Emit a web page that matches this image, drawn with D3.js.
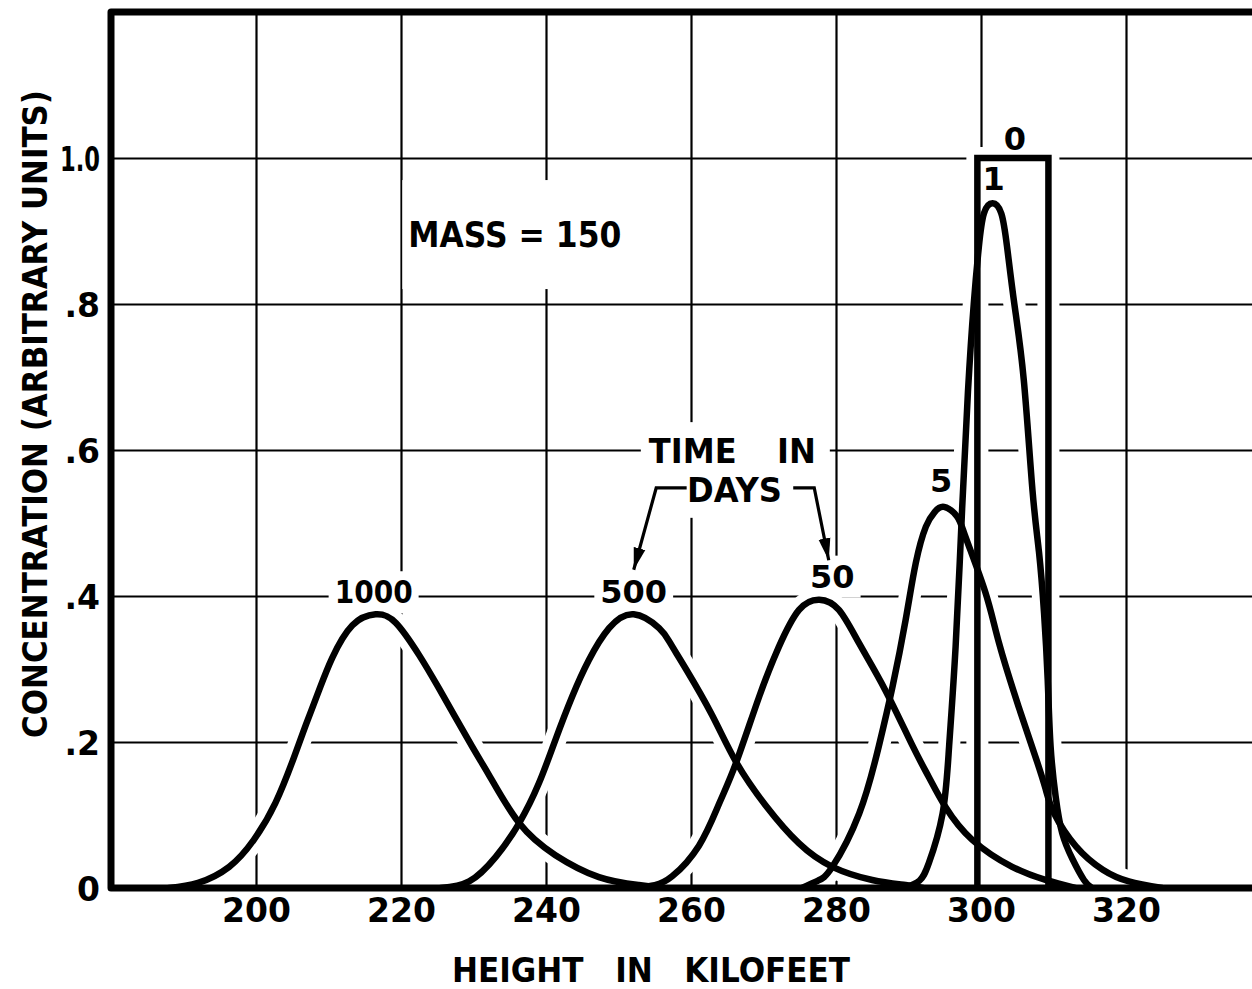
<!DOCTYPE html>
<html>
<head>
<meta charset="utf-8">
<script src="https://cdn.jsdelivr.net/npm/d3@7/dist/d3.min.js"></script>
<style>
  html, body { margin: 0; padding: 0; background: #ffffff; }
  svg { display: block; }
  text { font-family: "DejaVu Sans", "Liberation Sans", sans-serif; font-weight: bold; fill: #000; }
</style>
</head>
<body>
<svg id="chart" width="1252" height="989"></svg>
<script>
// ---------------- data ----------------
const xTicks = [200, 220, 240, 260, 280, 300, 320];
const xTickLabels = ["200", "220", "240", "260", "280", "300", "320"];
const yTicks = [0, 0.2, 0.4, 0.6, 0.8, 1.0];
const yTickLabels = ["0", ".2", ".4", ".6", ".8", "1.0"];

const seriesNames = ["1000", "500", "50", "5", "1", "0"];

// [height in kilofeet, concentration]
const days1000 = [[188,0],[192,0.007],[196.3,0.029],[199.7,0.066],[202.7,0.117],[205.2,0.178],[206.9,0.224],[208.7,0.271],[210.5,0.315],[213.3,0.360],[216.5,0.375],[219.3,0.363],[222.5,0.319],[225.2,0.274],[229.8,0.194],[232.3,0.152],[236.3,0.089],[241.3,0.045],[247.3,0.015],[252.8,0.004],[256,0]];
const days500 = [[225.5,0],[229.4,0.009],[233.1,0.043],[236.3,0.089],[239.0,0.143],[241.3,0.203],[243.6,0.262],[245.9,0.312],[248.7,0.356],[252.1,0.375],[255.6,0.356],[257.1,0.336],[259.3,0.300],[262.9,0.237],[266.2,0.173],[270.3,0.113],[274.9,0.061],[279.5,0.029],[285.0,0.011],[289.6,0.004],[292,0]];
const days50 = [[252.5,0],[255,0.004],[257.4,0.016],[261.1,0.058],[263.9,0.116],[266.2,0.171],[269.4,0.262],[272.1,0.330],[274.9,0.381],[277.7,0.395],[280.4,0.381],[283.2,0.335],[286.8,0.271],[290.5,0.196],[292.8,0.152],[295.1,0.111],[298.8,0.066],[304.3,0.029],[308.9,0.011],[313,0]];
const days5 = [[275.3,0],[277.5,0.01],[279.5,0.029],[283.2,0.102],[285.9,0.194],[287.8,0.276],[289.6,0.367],[291.0,0.445],[292.4,0.495],[293.6,0.515],[294.9,0.522],[296.7,0.509],[297.9,0.480],[300.6,0.405],[302.5,0.335],[305.2,0.248],[307.5,0.180],[308.9,0.136],[310.1,0.102],[313.1,0.057],[316.8,0.025],[320.4,0.009],[325,0]];
const days1 = [[289.5,0],[291.5,0.01],[292.8,0.034],[294.7,0.102],[295.6,0.194],[296.5,0.331],[297.4,0.52],[298.2,0.68],[299.0,0.8],[299.7,0.878],[300.4,0.924],[301.6,0.938],[302.8,0.924],[303.6,0.878],[304.6,0.8],[305.9,0.696],[307.1,0.545],[308.0,0.460],[308.7,0.376],[309.2,0.285],[309.6,0.194],[310.3,0.125],[311.2,0.075],[312.6,0.040],[314.2,0.011],[315.3,0]];
const days0 = [[299.5,0],[299.5,1.0],[309.3,1.0],[309.3,0]];

const xTitle = "HEIGHT IN KILOFEET";
const yTitle = "CONCENTRATION (ARBITRARY UNITS)";
const massNote = "MASS = 150";
const timeNoteLines = ["TIME IN", "DAYS"];

// ---------------- drawing ----------------
const svg = d3.select("#chart");
const x = d3.scaleLinear().domain([180, 340]).range([111, 1271]);
const y = d3.scaleLinear().domain([0, 1.2]).range([888, 12]);

const defs = svg.append("defs");
defs.append("marker")
  .attr("id", "arrowhead")
  .attr("viewBox", "0 -7 22 14")
  .attr("refX", 22).attr("refY", 0)
  .attr("markerWidth", 22).attr("markerHeight", 14)
  .attr("markerUnits", "userSpaceOnUse")
  .attr("orient", "auto")
  .append("path").attr("d", "M0,-6L22,0L0,6Z").attr("fill", "#000");

const gGrid = svg.append("g");
const gBg = svg.append("g");
const gHalo = svg.append("g");
const gFrame = svg.append("g");
const gCurves = svg.append("g");
const gText = svg.append("g");

// grid + tick labels through d3 axes
const xAxis = d3.axisBottom(x)
  .tickValues(xTicks)
  .tickFormat((d, i) => xTickLabels[i])
  .tickSize(-(y(0) - y(1.2)))
  .tickPadding(10);
const gx = gGrid.append("g").attr("transform", `translate(0,${y(0)})`).call(xAxis);
gx.select(".domain").remove();
gx.selectAll(".tick line").attr("stroke", "#000").attr("stroke-width", 2.2);
gx.selectAll(".tick text")
  .attr("font-size", 33).attr("font-family", null).attr("y", 34).attr("dy", 0);

const yAxis = d3.axisLeft(y)
  .tickValues(yTicks)
  .tickFormat((d, i) => yTickLabels[i])
  .tickSize(-(x(340) - x(180)))
  .tickPadding(11);
const gy = gGrid.append("g").attr("transform", `translate(${x(180)},0)`).call(yAxis);
gy.select(".domain").remove();
gy.selectAll(".tick line").attr("stroke", "#000").attr("stroke-width", 2.2);
gy.selectAll(".tick text")
  .attr("font-size", 33).attr("font-family", null).attr("dy", 12)
  .each(function(d, i) {
    if (yTickLabels[i] === "1.0") {
      d3.select(this).attr("textLength", 40).attr("lengthAdjust", "spacingAndGlyphs");
    }
  });

// curves
const smoothLine = d3.line().x(d => x(d[0])).y(d => y(d[1])).curve(d3.curveNatural);
const straightLine = d3.line().x(d => x(d[0])).y(d => y(d[1]));
const seriesData = [days1000, days500, days50, days5, days1, days0];
const series = seriesNames.map((name, i) => ({ name, pts: seriesData[i], smooth: name !== "0" }));

// clip curves so spline wiggles never dip below the baseline
defs.append("clipPath").attr("id", "plotClip")
  .append("rect").attr("x", x(180)).attr("y", y(1.2)).attr("width", x(340) - x(180)).attr("height", y(0) - y(1.2));

series.forEach(s => {
  const d = (s.smooth ? smoothLine : straightLine)(s.pts);
  gHalo.append("path").attr("d", d).attr("fill", "none").attr("clip-path", "url(#plotClip)")
    .attr("stroke", "#fff").attr("stroke-width", 22).attr("stroke-linejoin", "round");
  gCurves.append("path").attr("d", d).attr("fill", "none").attr("clip-path", "url(#plotClip)")
    .attr("stroke", "#000").attr("stroke-width", 6.5)
    .attr("stroke-linejoin", s.smooth ? "round" : "miter").attr("stroke-linecap", "round");
});

// frame (left, top, baseline)
gFrame.append("path")
  .attr("d", `M${x(340)},${y(1.2)}H${x(180)}V${y(0)}H${x(340)}`)
  .attr("fill", "none").attr("stroke", "#000").attr("stroke-width", 7)
  .attr("stroke-linejoin", "round");

// helper: white background behind a text
function addBg(sel, padX, padY) {
  const b = sel.node().getBBox();
  gBg.append("rect")
    .attr("x", b.x - padX).attr("y", b.y - padY)
    .attr("width", b.width + 2 * padX).attr("height", b.height + 2 * padY)
    .attr("fill", "#fff");
}

// curve labels at the peak of each series
const labelOffsets = { "1000": [-2, -11, 78], "500": [0, -11, 0], "50": [13, -12, 0], "5": [-3, -15, 0], "1": [1, -13, 0], "0": [2, -8, 0] };
series.forEach(s => {
  const maxY = d3.max(s.pts, p => p[1]);
  const peakX = d3.mean(s.pts.filter(p => p[1] === maxY), p => p[0]);
  const off = labelOffsets[s.name];
  const t = gText.append("text")
    .attr("x", x(peakX) + off[0]).attr("y", y(maxY) + off[1])
    .attr("text-anchor", "middle").attr("font-size", 32)
    .text(s.name);
  if (off[2]) t.attr("textLength", off[2]).attr("lengthAdjust", "spacingAndGlyphs");
  addBg(t, 6, 2);
});

// MASS note
const mass = gText.append("text")
  .attr("x", x(235.7)).attr("y", y(0.878))
  .attr("text-anchor", "middle").attr("font-size", 36)
  .attr("textLength", 213).attr("lengthAdjust", "spacingAndGlyphs")
  .text(massNote);
addBg(mass, 6, 34);

// TIME IN DAYS note
const t1 = gText.append("text")
  .attr("x", x(265.7)).attr("y", y(0.582))
  .attr("text-anchor", "middle").attr("font-size", 33)
  .attr("word-spacing", 30)
  .attr("textLength", 167).attr("lengthAdjust", "spacingAndGlyphs")
  .text(timeNoteLines[0]);
const t2 = gText.append("text")
  .attr("x", x(266.0)).attr("y", y(0.529))
  .attr("text-anchor", "middle").attr("font-size", 33)
  .attr("textLength", 95).attr("lengthAdjust", "spacingAndGlyphs")
  .text(timeNoteLines[1]);
{
  const b1 = t1.node().getBBox(), b2 = t2.node().getBBox();
  const x0 = Math.min(b1.x, b2.x) - 8, x1 = Math.max(b1.x + b1.width, b2.x + b2.width) + 14;
  const y0 = b1.y - 10, y1 = b2.y + b2.height + 8;
  gBg.append("rect").attr("x", x0).attr("y", y0).attr("width", x1 - x0).attr("height", y1 - y0).attr("fill", "#fff");
}

// bracket arrows (annotation, in data units)
const arrowPaths = [
  [[259.4, 0.548], [255.2, 0.548], [252.1, 0.436]],
  [[274.1, 0.548], [277.0, 0.548], [279.0, 0.449]]
];
const arrowLine = d3.line().x(d => x(d[0])).y(d => y(d[1]));
arrowPaths.forEach(a => {
  gBg.append("path").attr("d", arrowLine(a)).attr("fill", "none")
    .attr("stroke", "#fff").attr("stroke-width", 12);
  gText.append("path").attr("d", arrowLine(a)).attr("fill", "none")
    .attr("stroke", "#000").attr("stroke-width", 3.2).attr("stroke-linejoin", "miter")
    .attr("marker-end", "url(#arrowhead)");
});

// axis titles
gText.append("text")
  .attr("x", (452 + 850) / 2).attr("y", 982)
  .attr("text-anchor", "middle").attr("font-size", 33)
  .attr("word-spacing", 22)
  .attr("textLength", 398).attr("lengthAdjust", "spacingAndGlyphs")
  .text(xTitle);

gText.append("text")
  .attr("transform", `translate(47,${(90 + 738) / 2}) rotate(-90)`)
  .attr("text-anchor", "middle").attr("font-size", 33)
  .attr("textLength", 648).attr("lengthAdjust", "spacingAndGlyphs")
  .text(yTitle);
</script>
</body>
</html>
